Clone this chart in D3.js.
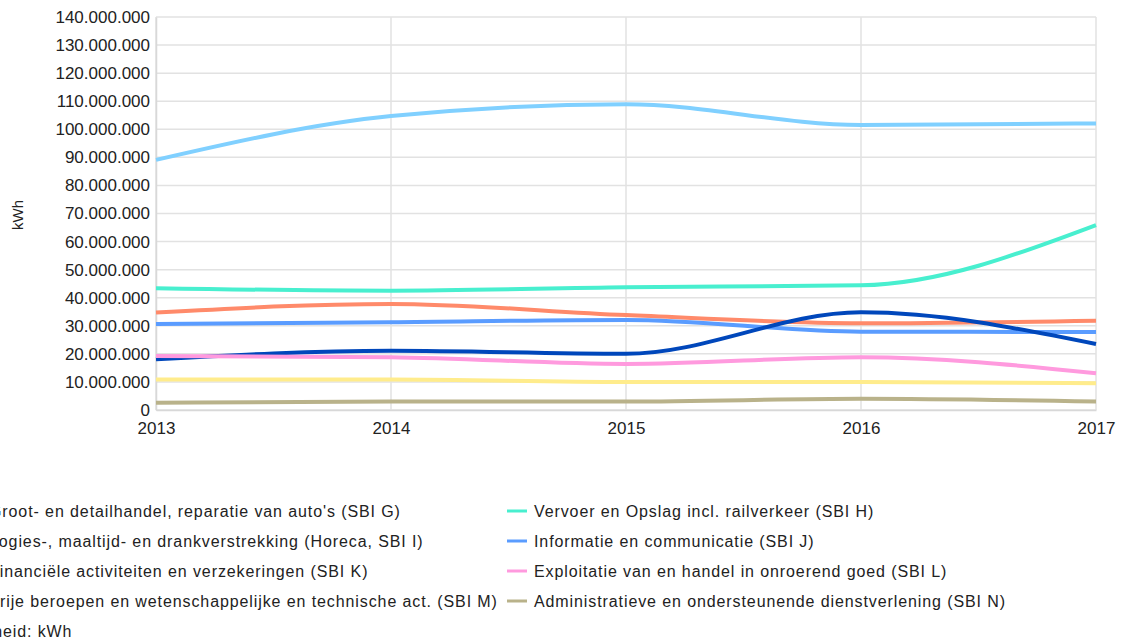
<!DOCTYPE html>
<html>
<head>
<meta charset="utf-8">
<script src="https://cdn.jsdelivr.net/npm/d3@7"></script>
<style>
  body { margin: 0; background: #fff; overflow: hidden; }
  text { font-family: "Liberation Sans", Arial, sans-serif; fill: #222; }
</style>
</head>
<body>
<div id="chart"></div>
<script>
// years on the x axis
var years = [2013, 2014, 2015, 2016, 2017];

// kWh per sector
var groot        = [89100000, 104700000, 108900000, 101500000, 102100000];
var vervoer      = [43400000, 42500000, 43700000, 44400000, 65900000];
var horeca       = [34700000, 37800000, 33800000, 30900000, 31800000];
var informatie   = [30600000, 31300000, 32100000, 27900000, 27800000];
var financieel   = [18100000, 21100000, 20000000, 34800000, 23500000];
var exploitatie  = [19200000, 18800000, 16400000, 18800000, 13100000];
var vrije        = [10900000, 10900000, 10000000, 10000000, 9500000];
var administratief = [2600000, 3000000, 3000000, 4000000, 3000000];

var seriesNames = [
  "Groot- en detailhandel, reparatie van auto's (SBI G)",
  "Vervoer en Opslag incl. railverkeer (SBI H)",
  "Logies-, maaltijd- en drankverstrekking (Horeca, SBI I)",
  "Informatie en communicatie (SBI J)",
  "Financiële activiteiten en verzekeringen (SBI K)",
  "Exploitatie van en handel in onroerend goed (SBI L)",
  "Vrije beroepen en wetenschappelijke en technische act. (SBI M)",
  "Administratieve en ondersteunende dienstverlening (SBI N)"
];
var seriesValues = [groot, vervoer, horeca, informatie, financieel, exploitatie, vrije, administratief];
var seriesColors = ['#80d0ff', '#48efcf', '#ff8a6a', '#5a9cff', '#0047bb', '#ff9ade', '#ffec8c', '#b9b28a'];
var yTicks = d3.range(0, 140000001, 10000000);

var width = 1124;
var height = 641;
var plotLeft = 156, plotRight = 1096, plotTop = 17, plotBottom = 410;

var svg = d3.select('#chart').append('svg').attr('width', width).attr('height', height);

var x = d3.scaleLinear().domain([2013, 2017]).range([plotLeft, plotRight]);
var y = d3.scaleLinear().domain([0, 140000000]).range([plotBottom, plotTop]);

var nl = d3.formatLocale({decimal: ",", thousands: ".", grouping: [3], currency: ["€", ""]});
var fmt = nl.format(",d");

// gridlines
svg.append('g').selectAll('line').data(yTicks).enter().append('line')
  .attr('x1', plotLeft).attr('x2', plotRight)
  .attr('y1', function(d){ return y(d); }).attr('y2', function(d){ return y(d); })
  .style('stroke', '#e2e2e2').style('stroke-width', 1.5);
svg.append('g').selectAll('line').data(years).enter().append('line')
  .attr('x1', function(d){ return x(d); }).attr('x2', function(d){ return x(d); })
  .attr('y1', plotTop).attr('y2', plotBottom)
  .style('stroke', '#e2e2e2').style('stroke-width', 1.5);

// axes
var yAxis = svg.append('g').attr('transform', 'translate(' + plotLeft + ',0)')
  .call(d3.axisLeft(y).tickValues(yTicks).tickFormat(fmt).tickSize(0).tickPadding(6));
yAxis.select('.domain').style('stroke', '#d8d8d8').style('stroke-width', 1.5);
yAxis.selectAll('text').style('font-size', '17px').style('fill', '#222');

var xAxis = svg.append('g').attr('transform', 'translate(0,' + plotBottom + ')')
  .call(d3.axisBottom(x).tickValues(years).tickFormat(d3.format('d')).tickSize(0).tickPadding(12));
xAxis.select('.domain').style('stroke', '#d8d8d8').style('stroke-width', 1.5);
xAxis.selectAll('text').style('font-size', '17px').style('fill', '#222');

svg.append('text').attr('transform', 'translate(23,215) rotate(-90)')
  .attr('text-anchor', 'middle').style('font-size', '15px').text('kWh');

// lines
var line = d3.line()
  .x(function(d, i){ return x(years[i]); })
  .y(function(d){ return y(d); })
  .curve(d3.curveMonotoneX);

seriesValues.forEach(function(vals, i){
  svg.append('path').datum(vals).attr('d', line)
    .style('fill', 'none').style('stroke', seriesColors[i]).style('stroke-width', 4);
});

// legend: two columns, row-wise
var legend = svg.append('g');
seriesNames.forEach(function(name, i){
  var col = i % 2, row = Math.floor(i / 2);
  var lx = -38 + col * 545, ly = 511 + row * 30;
  legend.append('line').attr('x1', lx).attr('x2', lx + 20).attr('y1', ly).attr('y2', ly)
    .style('stroke', seriesColors[i]).style('stroke-width', 3);
  legend.append('text').attr('x', lx + 27).attr('y', ly + 5.5)
    .style('font-size', '16px').style('letter-spacing', '0.9px').text(name);
});
legend.append('text').attr('x', -38).attr('y', 636.5)
  .style('font-size', '16px').style('letter-spacing', '0.9px').text('Eenheid: kWh');
</script>
</body>
</html>
